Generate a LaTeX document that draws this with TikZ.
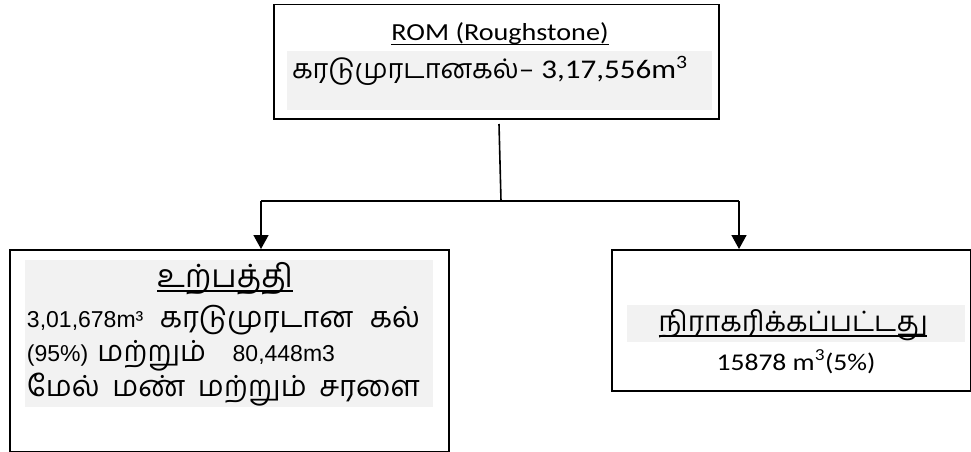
\documentclass[tikz,border=0pt]{standalone}
\usepackage{fontspec}
\usetikzlibrary{arrows.meta}
\setmainfont{Carlito}
\newfontfamily\latinf{Carlito}[FakeStretch=1.15]
\newfontfamily\tamf[Script=Tamil]{Hind Madurai}
\newfontfamily\arialf{Liberation Sans}
\definecolor{shadecol}{HTML}{F2F2F2}
\newcommand\myul[2]{\setbox0\hbox{#2}\rlap{\rule[-#1]{\wd0}{1.6pt}}\box0}
\tikzset{
  box/.style={draw=black, line width=1.5pt},
  conn/.style={line width=1.6pt, draw=black},
  arr/.style={conn, -{Triangle[width=15pt,length=14pt]}},
  txt/.style={inner sep=0pt, outer sep=0pt}
}
\begin{document}
\begin{tikzpicture}[x=1pt,y=-1pt]
\useasboundingbox (0,0) rectangle (971,452);
% top box
\fill[shadecol] (287,51) rectangle (712,110);
\node[box, minimum width=445pt, minimum height=114pt, anchor=north west, inner sep=0pt] (top) at (273,4) {};
\node[txt, anchor=base] (t1) at (500,41) {\latinf\fontsize{24.5}{24}\selectfont\myul{4.5pt}{ROM (Roughstone)}};
\node[txt, anchor=base west] (t2) at (292,78) {\tamf\fontsize{27}{27}\selectfont கரடுமுரடானகல்\latinf\fontsize{27}{27}\selectfont– 3,17,556m\textsuperscript{3}};
% left box
\fill[shadecol] (25,260) rectangle (433,407);
\node[box, minimum width=439pt, minimum height=202pt, anchor=north west, inner sep=0pt] (left) at (9,249) {};
\node[txt, anchor=base] (l0) at (225,287) {\tamf\fontsize{32}{32}\selectfont\myul{5pt}{உற்பத்தி}};
\node[txt, anchor=base west] (l1) at (27,327) {\hbox to 393pt{\arialf\fontsize{23}{23}\selectfont 3,01,678m³\hfill\tamf\fontsize{29}{29}\selectfont கரடுமுரடான\hfill கல்}};
\node[txt, anchor=base west] (l2) at (27,361) {\hbox to 308pt{\arialf\fontsize{23}{23}\selectfont (95\%)\hspace{9pt}\tamf\fontsize{29}{29}\selectfont மற்றும்\hfill\arialf\fontsize{23}{23}\selectfont 80,448m3}};
\node[txt, anchor=base west] (l3) at (27,396) {\hbox to 393pt{\tamf\fontsize{29}{29}\selectfont மேல்\hfill மண்\hfill மற்றும்\hfill சரளை}};
% right box
\fill[shadecol] (627,305) rectangle (965,342);
\node[box, minimum width=359pt, minimum height=141pt, anchor=north west, inner sep=0pt] (right) at (611,249) {};
\node[txt, anchor=base] (r1) at (793,331) {\tamf\fontsize{28}{28}\selectfont\myul{6pt}{நிராகரிக்கப்பட்டது}};
\node[txt, anchor=base] (r2) at (796,370) {\latinf\fontsize{24}{24}\selectfont 15878 m\textsuperscript{3}(5\%)};
% connectors
\coordinate (s) at (499,124);
\coordinate (j) at (501,201);
\coordinate (jl) at (261,201);
\coordinate (jr) at (739,201);
\draw[conn] (s) -- (j);
\draw[conn] (jl) -- (jr);
\draw[arr] (jl) -- (jl |- left.north);
\draw[arr] (jr) -- (jr |- right.north);
\end{tikzpicture}
\end{document}
